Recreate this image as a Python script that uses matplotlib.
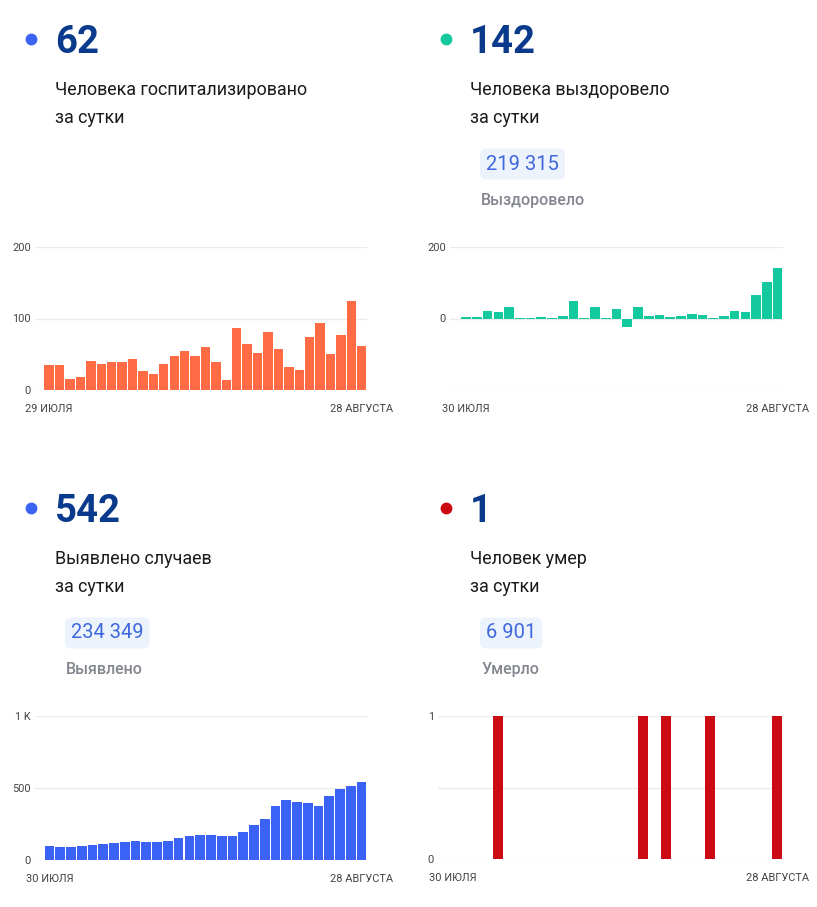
import matplotlib
matplotlib.use('Agg')
import matplotlib.pyplot as plt
import numpy as np
from matplotlib.lines import Line2D

plt.rcParams['font.family'] = ['Roboto', 'DejaVu Sans']

W, H = 817, 907

# daily series
hospitalized = [35, 35, 15, 18, 40, 37, 39, 39, 43, 27, 23, 36, 47, 55, 48, 60,
                39, 14, 87, 65, 52, 81, 57, 32, 28, 74, 94, 50, 77, 124, 62]
recovered = [3, 3, 22, 17, 33, 2, 2, 5, 1, 7, 50, 2, 31, 2, 27, -24, 33, 7,
             10, 4, 7, 13, 10, 2, 8, 20, 17, 66, 103, 142]
cases = [98, 93, 91, 98, 102, 109, 116, 123, 133, 128, 126, 135, 156, 165, 177,
         172, 170, 167, 193, 244, 286, 374, 414, 405, 398, 377, 444, 491, 516, 542]
deaths = [0, 0, 0, 0, 1, 0, 0, 0, 0, 0, 0, 0, 0, 0, 0, 0, 0, 1, 0, 1, 0, 0, 0,
          1, 0, 0, 0, 0, 0, 1]

first_labels = ['29 ИЮЛЯ', '30 ИЮЛЯ', '30 ИЮЛЯ', '30 ИЮЛЯ']
last_label = '28 АВГУСТА'

headline = ['62', '142', '542', '1']
subtitles = [['Человека госпитализировано', 'за сутки'],
             ['Человека выздоровело', 'за сутки'],
             ['Выявлено случаев', 'за сутки'],
             ['Человек умер', 'за сутки']]
totals = [None, '219 315', '234 349', '6 901']
total_labels = [None, 'Выздоровело', 'Выявлено', 'Умерло']

dot_colors = ['#3a63f2', '#14c99e', '#3a63f2', '#cc0a14']
bar_colors = ['#ff6b45', '#14c99e', '#3a63f5', '#cc0a14']
NAVY = '#0a3a8c'

fig = plt.figure(figsize=(W / 100, H / 100), dpi=100)


def fx(x):
    return x / W


def fy(y):
    return 1 - y / H


def header(x0, y0, i):
    # dot + big number
    fig.add_artist(Line2D([fx(x0 - 24)], [fy(y0 + 1)], marker='o', ms=7.5,
                          color=dot_colors[i], transform=fig.transFigure))
    fig.text(fx(x0), fy(y0 + 15), headline[i], fontsize=27.5, fontweight='bold',
             color=NAVY, va='baseline', ha='left')
    for k, line in enumerate(subtitles[i]):
        fig.text(fx(x0), fy(y0 + 57 + 28 * k), line, fontsize=12.9,
                 color='#1a1a1a', va='baseline', ha='left')
    if totals[i] is not None:
        fig.text(fx(x0 + 16), fy(y0 + 126), totals[i], fontsize=14.5,
                 color='#3f68dd', va='center', ha='left',
                 bbox=dict(boxstyle='round,pad=0.3,rounding_size=0.3',
                           fc='#edf3fd', ec='none'))
        fig.text(fx(x0 + 11), fy(y0 + 167), total_labels[i], fontsize=11.5,
                 fontweight='medium', color='#83868e', va='baseline', ha='left')


def chart(l, t, r, b, i, values, ylim, yticks, ylabels, xpad):
    ax = fig.add_axes([fx(l), fy(b), (r - l) / W, (b - t) / H])
    n = len(values)
    x = np.arange(n)
    ax.bar(x, values, width=0.9, color=bar_colors[i], zorder=3)
    ax.set_xlim(-0.5 - xpad, n - 0.5)
    ax.set_ylim(*ylim)
    ax.set_yticks(yticks)
    ax.set_yticklabels(ylabels)
    ax.set_xticks([0, n - 1])
    ax.set_xticklabels([first_labels[i], last_label])
    for s in ax.spines.values():
        s.set_visible(False)
    ax.grid(axis='y', color='#ebebeb', linewidth=1, zorder=0)
    ax.tick_params(axis='both', length=0, labelsize=7.9, labelcolor='#444444')
    ax.tick_params(axis='y', pad=3)
    ax.tick_params(axis='x', pad=10)
    ax.set_facecolor('none')
    return ax


header(55, 38, 0)
header(470, 38, 1)
header(55, 507, 2)
header(470, 507, 3)

chart(35, 247, 367, 390, 0, hospitalized, (0, 200), [0, 100, 200],
      ['0', '100', '200'], 0.86)
chart(450, 247, 783, 390, 1, recovered, (-200, 200), [-200, 0, 200],
      ['', '0', '200'], 1.0)
chart(35, 716, 367, 860, 2, cases, (0, 1000), [0, 500, 1000],
      ['0', '500', '1 K'], 0.84)
chart(438, 716, 783, 859, 3, deaths, (0, 1), [0, 0.5, 1],
      ['0', '', '1'], 0.86)

fig.savefig('out.png', dpi=100, facecolor='white')
